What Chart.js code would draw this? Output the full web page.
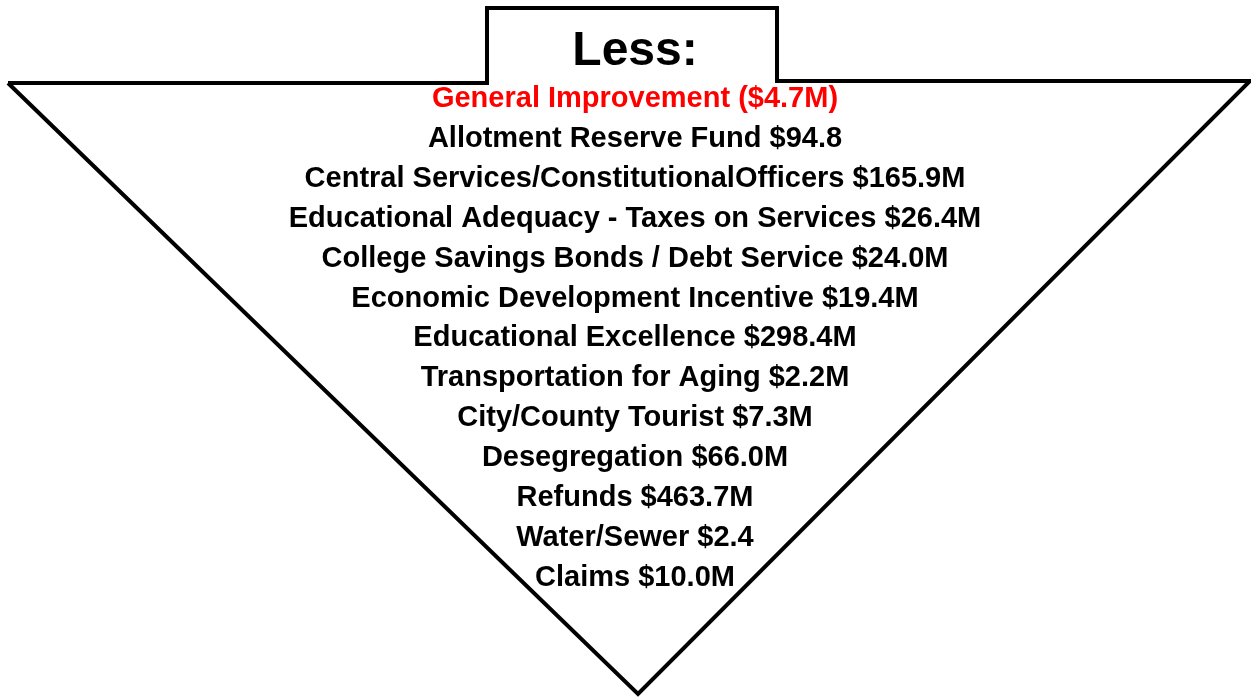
<!DOCTYPE html>
<html lang="en">
<head>
  <meta charset="UTF-8">
  <title>Less</title>
  <script src="https://cdn.jsdelivr.net/npm/chart.js"></script>
  <style>
    body { margin: 0; background: #fff; }
    #wrap { width: 1251px; height: 698px; position: relative; }
  </style>
</head>
<body>
  <div id="wrap"><canvas id="chart"></canvas></div>
  <script>
    // header + line items (amounts as printed)
    const title = 'Less:';
    const items = [
      'General Improvement', 'Allotment Reserve Fund', 'Central Services/ConstitutionalOfficers',
      'Educational Adequacy - Taxes on Services', 'College Savings Bonds / Debt Service',
      'Economic Development Incentive', 'Educational Excellence', 'Transportation for Aging',
      'City/County Tourist', 'Desegregation', 'Refunds', 'Water/Sewer', 'Claims'
    ];
    const amounts = ['($4.7M)', '$94.8', '$165.9M', '$26.4M', '$24.0M', '$19.4M', '$298.4M',
      '$2.2M', '$7.3M', '$66.0M', '$463.7M', '$2.4', '$10.0M'];
    const highlighted = [true, false, false, false, false, false, false, false, false, false, false, false, false];

    // arrow outline vertices, in canvas units (0..1251 x 0..698)
    const arrowX = [8, 487, 487, 777, 777, 1250, 638, 8];
    const arrowY = [83, 83, 8, 8, 81, 81, 694, 83];

    const outline = arrowX.map((x, i) => ({ x, y: arrowY[i] }));

    const labelPlugin = {
      id: 'labels',
      afterDatasetsDraw(chart) {
        const { ctx, scales: { x, y } } = chart;
        const cx = x.getPixelForValue(635);
        ctx.save();
        ctx.textAlign = 'center';
        ctx.textBaseline = 'alphabetic';
        ctx.fillStyle = '#000';
        ctx.font = 'bold 48px "Liberation Sans", Arial, sans-serif';
        ctx.fillText(title, x.getPixelForValue(635), y.getPixelForValue(65));
        ctx.font = 'bold 29px "Liberation Sans", Arial, sans-serif';
        items.forEach((name, i) => {
          ctx.fillStyle = highlighted[i] ? '#ff0000' : '#000';
          ctx.fillText(name + ' ' + amounts[i], cx, y.getPixelForValue(107 + i * 39.9));
        });
        ctx.restore();
      }
    };

    new Chart(document.getElementById('chart'), {
      type: 'scatter',
      data: {
        datasets: [{
          data: outline,
          showLine: true,
          borderColor: '#000',
          borderWidth: 4,
          pointRadius: 0,
          fill: false,
          tension: 0,
          clip: false
        }]
      },
      options: {
        responsive: true,
        maintainAspectRatio: false,
        animation: false,
        layout: { padding: 0 },
        plugins: { legend: { display: false }, tooltip: { enabled: false } },
        scales: {
          x: { type: 'linear', min: 0, max: 1251, display: false },
          y: { type: 'linear', min: 0, max: 698, reverse: true, display: false }
        }
      },
      plugins: [labelPlugin]
    });
  </script>
</body>
</html>
